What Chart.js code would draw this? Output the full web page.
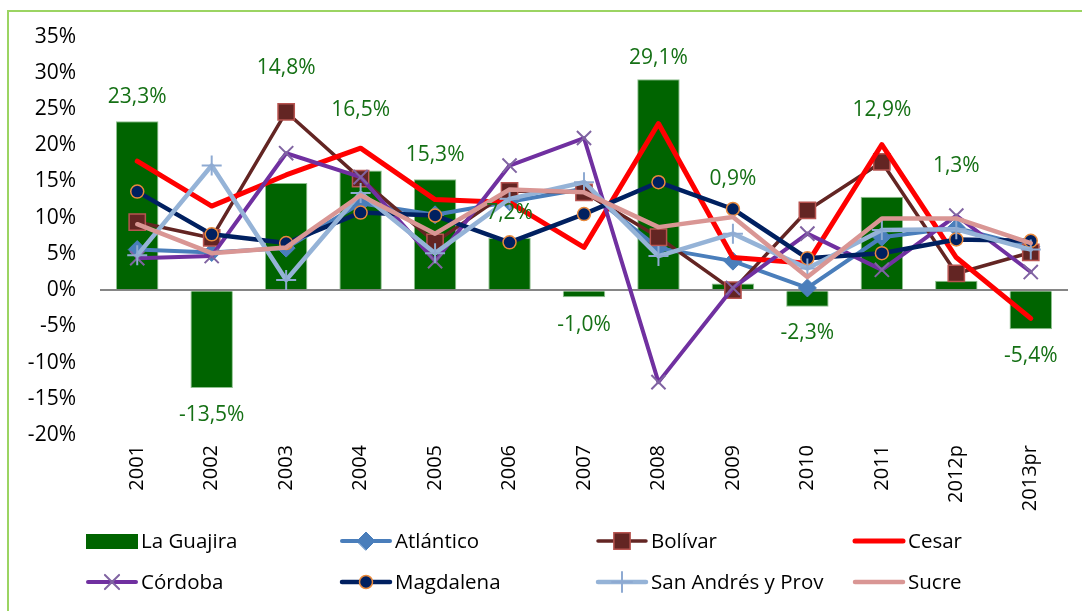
<!DOCTYPE html>
<html>
<head>
<meta charset="utf-8">
<script src="https://cdn.jsdelivr.net/npm/chart.js@4.4.1/dist/chart.umd.min.js"></script>
<style>
  html, body { margin: 0; padding: 0; background: #fff; overflow: hidden; }
  #wrap { position: relative; width: 1082px; height: 611px; }
  #frame { position: absolute; left: 7px; top: 10px; width: 1100px; height: 700px; border: 2px solid #9bd462; box-sizing: border-box; }
  #c { position: absolute; left: 0; top: 0; }
</style>
</head>
<body>
<div id="wrap">
  <div id="frame"></div>
  <canvas id="c" width="1082" height="611"></canvas>
</div>
<script>
// ================= DATA =================
const years = ["2001", "2002", "2003", "2004", "2005", "2006", "2007", "2008", "2009", "2010", "2011", "2012p", "2013pr"];
const yTicks = [-20, -15, -10, -5, 0, 5, 10, 15, 20, 25, 30, 35];

const laGuajira  = [23.3, -13.5, 14.8, 16.5, 15.3, 7.2, -1.0, 29.1, 0.9, -2.3, 12.9, 1.3, -5.4];
const atlantico  = [5.6, 5.2, 5.8, 12.0, 10.4, 12.2, 14.0, 5.8, 4.0, 0.3, 7.3, 8.6, 6.0];
const bolivar    = [9.4, 7.2, 24.6, 15.4, 6.6, 13.7, 13.5, 7.3, 0.0, 11.0, 17.7, 2.3, 5.2];
const cesar      = [17.8, 11.6, 15.9, 19.6, 12.5, 12.1, 5.9, 23.0, 4.5, 3.7, 20.1, 4.5, -3.9];
const cordoba    = [4.4, 4.7, 18.9, 15.6, 4.0, 17.2, 21.0, -12.7, 0.3, 7.8, 2.8, 10.3, 2.5];
const magdalena  = [13.6, 7.7, 6.5, 10.7, 10.3, 6.6, 10.5, 14.9, 11.2, 4.4, 5.1, 7.0, 6.8];
const sanAndres  = [4.8, 17.2, 1.4, 13.4, 5.1, 12.6, 14.9, 4.7, 7.8, 3.0, 8.3, 8.4, 5.6];
const sucre      = [9.1, 5.1, 5.9, 13.1, 7.8, 13.9, 13.5, 8.7, 10.1, 1.8, 9.9, 9.9, 6.5];

// where the La Guajira value labels sit (in % units, placed by hand in the original)
const labelAt = [26.6, -17.2, 30.7, 24.8, 18.6, 10.6, -4.8, 32.1, 15.3, -5.9, 24.8, 17.2, -9.1];

const FONT = "'Open Sans', 'DejaVu Sans', sans-serif";

// ================= HELPERS =================
function pct(v) {
    return v.toFixed(1).replace('.', ',') + '%';
}

function lineSet(label, data, color, width, style, extra) {
    return Object.assign({
        type: 'line', label, data,
        borderColor: color, backgroundColor: color,
        borderWidth: width, tension: 0, fill: false,
        borderJoinStyle: 'round', borderCapStyle: 'round',
        pointStyle: style || false,
        pointRadius: style ? 7 : 0,
        pointHoverRadius: style ? 7 : 0
    }, extra || {});
}

// data labels over the bars
const barLabels = {
    id: 'barLabels',
    afterDatasetsDraw(chart) {
        const { ctx, scales: { x, y } } = chart;
        ctx.save();
        ctx.font = "21px " + FONT;
        ctx.fillStyle = '#157015';
        ctx.textAlign = 'center';
        ctx.textBaseline = 'middle';
        laGuajira.forEach((v, i) => {
            ctx.fillText(pct(v), x.getPixelForValue(i), y.getPixelForValue(labelAt[i]));
        });
        ctx.restore();
    }
};

// excel-like legend: 4 columns, line with marker through it
const legendCols = [86, 340, 596, 853];
const legendRows = [541, 582];
const excelLegend = {
    id: 'excelLegend',
    afterDraw(chart) {
        const ctx = chart.ctx;
        ctx.save();
        chart.data.datasets.forEach((ds, i) => {
            const x0 = legendCols[i % 4], yc = legendRows[Math.floor(i / 4)];
            const w = 52;
            if (ds.type === 'bar') {
                ctx.fillStyle = ds.backgroundColor;
                ctx.fillRect(x0, yc - 7, w, 15);
            } else {
                ctx.strokeStyle = ds.borderColor;
                ctx.lineWidth = ds.borderWidth;
                ctx.lineCap = 'round';
                ctx.beginPath();
                ctx.moveTo(x0 + 2, yc);
                ctx.lineTo(x0 + w - 2, yc);
                ctx.stroke();
                if (ds.pointStyle) {
                    ctx.fillStyle = ds.pointBackgroundColor || ds.backgroundColor;
                    ctx.strokeStyle = ds.pointBorderColor || ds.borderColor;
                    ctx.lineWidth = ds.pointBorderWidth || 1;
                    Chart.helpers.drawPoint(ctx, {
                        pointStyle: ds.pointStyle,
                        radius: ds.pointRadius,
                        rotation: 0,
                        borderWidth: ds.pointBorderWidth || 1
                    }, x0 + w / 2, yc);
                }
            }
            ctx.fillStyle = '#000';
            ctx.font = "20.5px " + FONT;
            ctx.textAlign = 'left';
            ctx.textBaseline = 'middle';
            ctx.fillText(ds.label, x0 + w + 3, yc + 1);
        });
        ctx.restore();
    }
};

// ================= CHART =================
new Chart(document.getElementById('c'), {
    type: 'bar',
    data: {
        labels: years,
        datasets: [
            {
                type: 'bar', label: 'La Guajira', data: laGuajira,
                backgroundColor: '#006400', borderColor: 'rgba(130,185,130,0.9)', borderWidth: 1,
                barPercentage: 0.57, categoryPercentage: 1, order: 20
            },
            lineSet('Atlántico', atlantico, '#4a7ebb', 4, 'rectRot',
                { pointRadius: 9, pointBackgroundColor: '#4a7ebb', pointBorderColor: '#4a7ebb', pointBorderWidth: 1, order: 8 }),
            lineSet('Bolívar', bolivar, '#632523', 3.5, 'rect',
                { pointRadius: 11.5, pointBackgroundColor: '#632523', pointBorderColor: '#b85450', pointBorderWidth: 1.5, order: 7 }),
            lineSet('Cesar', cesar, '#ff0000', 5, false, { order: 6 }),
            lineSet('Córdoba', cordoba, '#7030a0', 4, 'crossRot',
                { pointRadius: 10, pointBorderColor: '#8064a2', pointBorderWidth: 2, order: 5 }),
            lineSet('Magdalena', magdalena, '#002060', 4.5, 'circle',
                { pointRadius: 6.5, pointBackgroundColor: '#002060', pointBorderColor: '#e98a3c', pointBorderWidth: 1.5, order: 4 }),
            lineSet('San Andrés y Prov', sanAndres, '#95b3d7', 4.5, 'cross',
                { pointRadius: 10, pointBorderColor: '#8eaad2', pointBorderWidth: 2, order: 3 }),
            lineSet('Sucre', sucre, '#d99694', 4.5, false, { order: 2 })
        ]
    },
    options: {
        responsive: false,
        animation: false,
        devicePixelRatio: 1,
        layout: { padding: { top: 36, right: 14, left: 0, bottom: 0 } },
        plugins: { legend: { display: false }, tooltip: { enabled: false } },
        scales: {
            x: {
                grid: { display: false, drawTicks: false },
                border: { display: false },
                ticks: {
                    color: '#000', font: { family: FONT, size: 20 },
                    maxRotation: 90, minRotation: 90, autoSkip: false, padding: 10
                },
                afterFit: s => { s.height = 176; }
            },
            y: {
                min: -20, max: 35,
                afterBuildTicks: s => { s.ticks = yTicks.map(v => ({ value: v })); },
                grid: {
                    drawTicks: false,
                    color: c => c.tick && c.tick.value === 0 ? '#868686' : 'rgba(0,0,0,0)',
                    lineWidth: 2
                },
                border: { display: false },
                ticks: {
                    color: '#000', font: { family: FONT, size: 21 }, padding: 24,
                    callback: v => v + '%'
                },
                afterFit: s => { s.width = 100; }
            }
        }
    },
    plugins: [barLabels, excelLegend]
});
</script>
</body>
</html>
